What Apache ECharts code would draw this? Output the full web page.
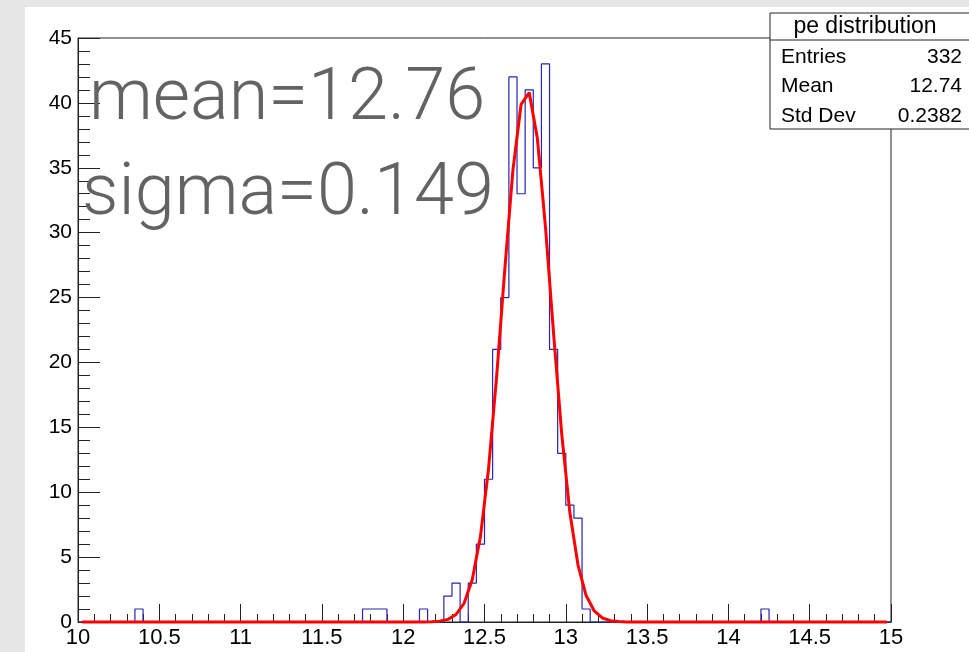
<!DOCTYPE html>
<html>
<head>
<meta charset="utf-8">
<script src="https://cdn.jsdelivr.net/npm/echarts@6/dist/echarts.min.js"></script>
<style>html,body{margin:0;padding:0;background:#e6e6e6;}#c{width:969px;height:652px;}</style>
</head>
<body>
<div id="c"></div>
<script>
// Histogram: low edges of non-empty bins (bin width 0.05) and their counts
const binLow = [10.35, 11.75, 11.80, 11.85, 12.10, 12.25, 12.30, 12.40, 12.45, 12.50, 12.55, 12.60, 12.65, 12.70, 12.75, 12.80, 12.85, 12.90, 12.95, 13.00, 13.05, 13.10, 14.20];
const binCount = [1, 1, 1, 1, 1, 2, 3, 3, 6, 11, 21, 25, 42, 33, 41, 35, 43, 21, 13, 9, 8, 1, 1];
// Fitted curve points
const fitX = [10.025, 12.125, 12.175, 12.225, 12.275, 12.325, 12.375, 12.425, 12.475, 12.525, 12.575, 12.625, 12.675, 12.725, 12.775, 12.825, 12.875, 12.925, 12.975, 13.025, 13.075, 13.125, 13.175, 13.225, 13.275, 13.325, 13.375, 14.975];
const fitY = [0, 0.005, 0.018, 0.065, 0.205, 0.578, 1.456, 3.28, 6.58, 11.82, 18.97, 27.20, 34.84, 39.88, 40.79, 37.28, 30.44, 22.20, 14.48, 8.43, 4.39, 2.04, 0.85, 0.31, 0.10, 0.03, 0.008, 0];
// Axis settings
const xMin = 10, xMax = 15, xStep = 0.5;
const yMin = 0, yMax = 45, yStep = 5;
const nBins = 100, binW = 0.05;
// Stats box texts
const statsTitle = 'pe distribution';
const statsLabels = ['Entries', 'Mean', 'Std Dev'];
const statsValues = ['332', '12.74', '0.2382'];
const noteLines = ['mean=12.76', 'sigma=0.149'];

const histData = [];
for (let i = 0; i < nBins; i++) {
  const lo = +(xMin + i * binW).toFixed(2);
  const k = binLow.findIndex(v => Math.abs(v - lo) < 1e-6);
  histData.push([lo, k >= 0 ? binCount[k] : 0]);
}
histData.push([xMax, 0]);
const fitData = fitX.map((x, i) => [x, fitY[i]]);

const chart = echarts.init(document.getElementById('c'), null, {renderer: 'canvas'});
const axisFont = 'Liberation Sans, Arial, Helvetica, sans-serif';
const graphics = [
  {type: 'rect', shape: {x: 25, y: 7, width: 944, height: 645}, style: {fill: '#ffffff'}, z: -100, silent: true},
  {type: 'text', x: 89, y: 137, style: {text: noteLines[0], font: '300 72px Roboto, sans-serif', fill: '#636363', verticalAlign: 'bottom'}, z: 50},
  {type: 'text', x: 82, y: 232, style: {text: noteLines[1], font: '300 72px Roboto, sans-serif', fill: '#636363', verticalAlign: 'bottom'}, z: 50},
  {type: 'rect', shape: {x: 770, y: 13, width: 205, height: 116}, style: {fill: '#ffffff', stroke: '#222', lineWidth: 1}, z: 60},
  {type: 'line', shape: {x1: 770, y1: 40, x2: 975, y2: 40}, style: {stroke: '#222', lineWidth: 1}, z: 61},
  {type: 'text', x: 865, y: 27, style: {text: statsTitle, font: '23px ' + axisFont, fill: '#000', align: 'center', verticalAlign: 'middle'}, z: 62}
];
statsLabels.forEach((t, i) => {
  graphics.push({type: 'text', x: 781, y: 57 + i * 29.5, style: {text: t, font: '21px ' + axisFont, fill: '#000', align: 'left', verticalAlign: 'middle'}, z: 62});
  graphics.push({type: 'text', x: 962, y: 57 + i * 29.5, style: {text: statsValues[i], font: '21px ' + axisFont, fill: '#000', align: 'right', verticalAlign: 'middle'}, z: 62});
});

chart.setOption({
  backgroundColor: '#e6e6e6',
  animation: false,
  grid: {left: 78, right: 78, top: 38, bottom: 30, show: true, borderColor: '#222', borderWidth: 1, backgroundColor: 'transparent'},
  xAxis: {
    type: 'value', min: xMin, max: xMax, interval: xStep,
    axisLine: {show: true, onZero: false, lineStyle: {color: '#222', width: 1}},
    axisTick: {show: true, inside: true, length: 18, lineStyle: {color: '#222'}},
    minorTick: {show: true, splitNumber: 5, length: 8, lineStyle: {color: '#222'}},
    splitLine: {show: false},
    axisLabel: {fontFamily: axisFont, fontSize: 22, color: '#000', margin: 5, formatter: v => String(+v.toFixed(1)), showMinLabel: true, showMaxLabel: true}
  },
  yAxis: {
    type: 'value', min: yMin, max: yMax, interval: yStep,
    axisLine: {show: true, onZero: false, lineStyle: {color: '#222', width: 1}},
    axisTick: {show: true, inside: true, length: 22, lineStyle: {color: '#222'}},
    minorTick: {show: true, splitNumber: 5, length: 12, lineStyle: {color: '#222'}},
    splitLine: {show: false},
    axisLabel: {fontFamily: axisFont, fontSize: 21, color: '#000', margin: 6}
  },
  graphic: graphics,
  series: [
    {type: 'line', data: histData, step: 'end', symbol: 'none', clip: false, z: 3,
     lineStyle: {color: '#2626b0', width: 1.2}},
    {type: 'line', data: fitData, symbol: 'none', clip: false, z: 4,
     lineStyle: {color: '#ff0000', width: 3}}
  ]
});
</script>
</body>
</html>
